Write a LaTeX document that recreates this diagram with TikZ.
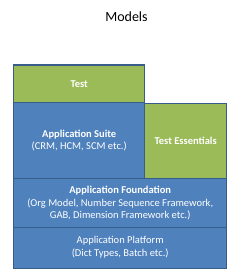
\documentclass[tikz,border=0pt]{standalone}
\usepackage{fontspec}
\setmainfont{Carlito}
\definecolor{blk}{HTML}{4F81BD}
\definecolor{grn}{HTML}{9BBB59}
\definecolor{edge}{HTML}{385D8A}
\begin{document}
\begin{tikzpicture}[x=1pt,y=-1pt,
  layer/.style={draw=edge,line width=1.2pt},
  lbl/.style={text=white,font=\fontsize{10.5}{12.7}\selectfont,align=center,inner sep=0pt}]
\useasboundingbox (0,0) rectangle (243,280);
\node (title) at (126.5,17) {\fontsize{14}{16}\selectfont Models};
\path[layer,fill=grn] (13.7,65) rectangle (144.7,102.7);
\path[layer,fill=blk] (13.7,102.7) rectangle (144.7,178.3);
\path[layer,fill=grn] (144.7,103.3) rectangle (226.7,178.3);
\path[layer,fill=blk] (13.7,178.3) rectangle (226.7,227.7);
\path[layer,fill=blk] (13.7,227.7) rectangle (226.7,268.3);
\node[lbl] (test) at (79.2,84) {\bfseries Test};
\node[lbl] (suite) at (79.2,140.5) {\bfseries Application Suite\\(CRM, HCM, SCM etc.)};
\node[lbl] (ess) at (185.7,140.8) {\bfseries Test Essentials};
\node[lbl] (found) at (120.2,203.3) {\bfseries Application Foundation\\(Org Model, Number Sequence Framework,\\GAB, Dimension Framework etc.)};
\node[lbl] (plat) at (120.2,247) {Application Platform\\(Dict Types, Batch etc.)};
\end{tikzpicture}
\end{document}
